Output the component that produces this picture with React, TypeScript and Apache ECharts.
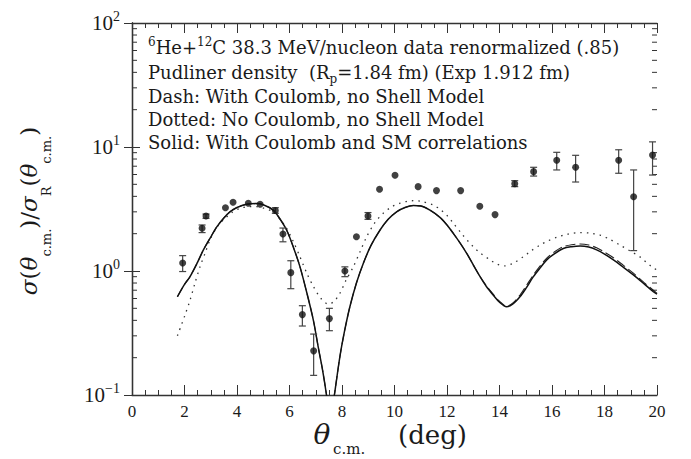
import React, { useEffect, useRef } from "react";
import * as echarts from "echarts";

// ---- data points (theta c.m., ratio) ----
const pointX = [1.93, 2.67, 2.82, 3.56, 3.85, 4.43, 4.88, 5.46, 5.75, 6.05, 6.49, 6.92, 7.52, 8.11, 8.55, 8.99, 9.43, 10.02, 10.9, 11.6, 12.52, 13.25, 13.83, 14.58, 15.3, 16.18, 16.9, 18.54, 19.11, 19.83];
const pointY = [1.16, 2.21, 2.78, 3.24, 3.58, 3.52, 3.45, 3.08, 1.99, 0.97, 0.445, 0.227, 0.413, 1.0, 1.89, 2.78, 4.56, 5.92, 4.79, 4.45, 4.45, 3.33, 2.85, 5.06, 6.33, 7.81, 6.86, 7.81, 3.97, 8.6];
const errLow: (number | null)[] = [0.99, 2.04, 2.66, null, null, null, null, 2.92, 1.72, 0.72, 0.36, 0.144, 0.33, 0.9, null, 2.61, null, null, null, null, null, null, null, 4.79, 5.83, 6.53, 5.22, 6.14, 1.46, 5.94];
const errHigh: (number | null)[] = [1.33, 2.35, 2.88, null, null, null, null, 3.24, 2.22, 1.21, 0.525, 0.31, 0.5, 1.08, null, 2.96, null, null, null, null, null, null, null, 5.35, 6.86, 9.06, 8.57, 9.5, 6.53, 11.0];

// ---- solid: with Coulomb and SM correlations ----
const solidX = [1.73, 2.0, 2.21, 2.5, 2.72, 3.0, 3.23, 3.5, 3.73, 4.0, 4.37, 4.75, 5.0, 5.38, 5.6, 5.89, 6.15, 6.4, 6.65, 6.91, 7.1, 7.26, 7.41, 7.55, 7.71, 7.92, 8.1, 8.3, 8.55, 8.81, 9.1, 9.45, 9.75, 10.08, 10.4, 10.72, 11.0, 11.35, 11.73, 12.0, 12.24, 12.5, 12.75, 13.0, 13.26, 13.5, 13.76, 14.0, 14.27, 14.5, 14.78, 15.0, 15.29, 15.55, 15.8, 16.1, 16.43, 16.75, 17.07, 17.4, 17.7, 18.0, 18.34, 18.7, 19.1, 19.5, 19.86, 20.0];
const solidY = [0.62, 0.78, 0.9, 1.18, 1.48, 1.88, 2.27, 2.68, 3.0, 3.25, 3.45, 3.5, 3.42, 3.1, 2.7, 2.14, 1.55, 1.08, 0.68, 0.4, 0.24, 0.159, 0.1, 0.06, 0.1, 0.204, 0.33, 0.515, 0.8, 1.15, 1.6, 2.14, 2.6, 3.0, 3.25, 3.37, 3.35, 3.1, 2.71, 2.35, 2.01, 1.68, 1.39, 1.12, 0.9, 0.75, 0.64, 0.56, 0.515, 0.54, 0.62, 0.72, 0.9, 1.06, 1.23, 1.38, 1.52, 1.57, 1.59, 1.56, 1.48, 1.37, 1.23, 1.08, 0.93, 0.79, 0.68, 0.65];

// ---- dashed: with Coulomb, no shell model ----
const dashX = [1.73, 2.0, 2.21, 2.5, 2.72, 3.0, 3.23, 3.5, 3.73, 4.0, 4.37, 4.75, 5.0, 5.38, 5.6, 5.89, 6.15, 6.4, 6.65, 6.91, 7.1, 7.26, 7.41, 7.55, 7.71, 7.92, 8.1, 8.3, 8.55, 8.81, 9.1, 9.45, 9.75, 10.08, 10.4, 10.72, 11.0, 11.35, 11.73, 12.0, 12.24, 12.5, 12.75, 13.0, 13.26, 13.5, 13.76, 14.0, 14.27, 14.5, 14.78, 15.0, 15.29, 15.55, 15.8, 16.1, 16.43, 16.75, 17.07, 17.4, 17.7, 18.0, 18.34, 18.7, 19.1, 19.5, 19.86, 20.0];
const dashY = [0.62, 0.78, 0.9, 1.18, 1.48, 1.88, 2.27, 2.68, 3.0, 3.25, 3.45, 3.5, 3.42, 3.1, 2.7, 2.14, 1.55, 1.08, 0.68, 0.4, 0.24, 0.159, 0.1, 0.06, 0.1, 0.204, 0.33, 0.515, 0.8, 1.15, 1.6, 2.14, 2.6, 3.0, 3.25, 3.37, 3.35, 3.1, 2.71, 2.35, 2.01, 1.68, 1.39, 1.12, 0.9, 0.76, 0.65, 0.57, 0.52, 0.55, 0.64, 0.75, 0.93, 1.1, 1.27, 1.43, 1.57, 1.63, 1.65, 1.62, 1.54, 1.42, 1.28, 1.12, 0.96, 0.81, 0.7, 0.66];

// ---- dotted: no Coulomb, no shell model ----
const dotX = [1.73, 2.0, 2.21, 2.4, 2.59, 2.8, 2.97, 3.2, 3.48, 3.8, 4.11, 4.45, 4.75, 5.05, 5.38, 5.65, 5.89, 6.15, 6.4, 6.65, 6.91, 7.2, 7.49, 7.7, 7.92, 8.15, 8.43, 8.7, 8.94, 9.25, 9.57, 9.9, 10.21, 10.5, 10.72, 11.0, 11.48, 11.73, 12.0, 12.24, 12.6, 13.0, 13.3, 13.64, 13.9, 14.21, 14.5, 14.9, 15.2, 15.54, 15.85, 16.18, 16.6, 17.07, 17.45, 17.83, 18.2, 18.59, 19.0, 19.35, 19.8, 20.0];
const dotY = [0.3, 0.43, 0.58, 0.8, 1.08, 1.42, 1.78, 2.2, 2.58, 2.95, 3.2, 3.3, 3.3, 3.2, 3.0, 2.6, 2.21, 1.72, 1.3, 0.97, 0.75, 0.6, 0.54, 0.57, 0.66, 0.84, 1.08, 1.45, 1.89, 2.45, 2.92, 3.3, 3.52, 3.65, 3.69, 3.65, 3.4, 3.15, 2.8, 2.43, 1.95, 1.57, 1.38, 1.23, 1.14, 1.1, 1.15, 1.3, 1.45, 1.62, 1.75, 1.87, 1.98, 2.04, 2.02, 1.95, 1.8, 1.62, 1.44, 1.3, 1.08, 1.02];

// ---- axes ----
const xMin = 0;
const xMax = 20;
const xInterval = 2;
const yMin = 0.1;
const yMax = 100;
const yMinorTicks = [0.2, 0.3, 0.4, 0.5, 0.6, 0.7, 0.8, 0.9, 2, 3, 4, 5, 6, 7, 8, 9, 20, 30, 40, 50, 60, 70, 80, 90];

// ---- annotation text ----
const textLines = [
  "{sup|6}He+{sup|12}C 38.3 MeV/nucleon data renormalized (.85)",
  "Pudliner density  (R{sub|p}=1.84 fm) (Exp 1.912 fm)",
  "Dash: With Coulomb, no Shell Model",
  "Dotted: No Coulomb, no Shell Model",
  "Solid: With Coulomb and SM correlations",
];
const textLineY = [47, 72, 96, 119, 142];
const xTitleSymbol = "θ";
const xTitleSub = "c.m.";
const xTitleUnit = "(deg)";
const yTitle = "{i|σ}{m|(}{i|θ}{s|c.m.}{m|)/}{i|σ}{s|R}{m|(}{i|θ}{s|c.m.}{m|)}";

const SERIF = '"DejaVu Serif", serif';
const TIMES = '"Liberation Serif", serif';
const INK = "#1a1a1a";

function zip(a: number[], b: number[]) {
  return a.map((v, i) => [v, b[i]]);
}

export default function App() {
  const ref = useRef<HTMLDivElement>(null);
  useEffect(() => {
    const chart = echarts.init(ref.current!, null, { renderer: "svg" });
    const axisLine = { show: true, lineStyle: { color: "#333", width: 1.3 } };
    const baseX = {
      type: "value",
      min: xMin,
      max: xMax,
      interval: xInterval,
      axisLine,
      axisTick: { show: true, inside: true, length: 10, lineStyle: { color: "#333", width: 1 } },
      minorTick: { show: true, splitNumber: 4, length: 5, lineStyle: { color: "#333", width: 1 } },
      splitLine: { show: false },
      minorSplitLine: { show: false },
    };
    const baseY = {
      type: "log",
      logBase: 10,
      min: yMin,
      max: yMax,
      axisLine,
      axisTick: { show: true, inside: true, length: 8, lineStyle: { color: "#333", width: 1 } },
      splitLine: { show: false },
    };
    const supFmt = (v: number) => {
      const e = Math.round(Math.log10(v));
      const s = e < 0 ? "\u2212" + -e : String(e);
      return "{b|10}{s|" + s + "}";
    };
    const errData = pointX
      .map((x, i) => [x, errLow[i], errHigh[i]])
      .filter((d) => d[1] !== null && d[2] !== null);

    chart.setOption({
      animation: false,
      backgroundColor: "#ffffff",
      grid: { left: 132, right: 34, top: 23, bottom: 64, containLabel: false },
      xAxis: [
        {
          ...baseX,
          position: "bottom",
          axisLabel: { show: true, margin: 8, color: INK, fontFamily: TIMES, fontSize: 17 },
        },
        { ...baseX, position: "top", axisLabel: { show: false } },
      ],
      yAxis: [
        {
          ...baseY,
          position: "left",
          axisLabel: {
            show: true,
            margin: 12,
            formatter: supFmt,
            rich: {
              b: { fontFamily: TIMES, fontSize: 21, color: INK },
              s: { fontFamily: TIMES, fontSize: 14, color: INK, padding: [0, 0, 14, 0] },
            },
          },
        },
        { ...baseY, position: "right", axisLabel: { show: false } },
      ],
      series: [
        {
          type: "custom",
          name: "minorY",
          silent: true,
          clip: false,
          data: yMinorTicks.map((v) => [xMin, v]),
          renderItem: (_p: any, api: any) => {
            const v = api.value(1);
            const l = api.coord([xMin, v]);
            const r = api.coord([xMax, v]);
            const st = { stroke: "#333", lineWidth: 1 };
            return {
              type: "group",
              children: [
                { type: "line", shape: { x1: l[0], y1: l[1], x2: l[0] + 5, y2: l[1] }, style: st },
                { type: "line", shape: { x1: r[0] - 5, y1: r[1], x2: r[0], y2: r[1] }, style: st },
              ],
            };
          },
        },
        {
          type: "line",
          name: "dotted",
          data: zip(dotX, dotY),
          showSymbol: false,
          smooth: 0.3,
          lineStyle: { color: "#333", width: 1.3, type: [1.5, 5] },
          z: 2,
        },
        {
          type: "line",
          name: "dashed",
          data: zip(dashX, dashY),
          showSymbol: false,
          smooth: 0.3,
          lineStyle: { color: "#222", width: 1.1, type: [10, 4] },
          z: 2,
        },
        {
          type: "line",
          name: "solid",
          data: zip(solidX, solidY),
          showSymbol: false,
          smooth: 0.3,
          lineStyle: { color: "#111", width: 1.5 },
          z: 3,
        },
        {
          type: "custom",
          name: "errors",
          silent: true,
          data: errData,
          encode: { x: 0, y: [1, 2] },
          renderItem: (_p: any, api: any) => {
            const x = api.value(0);
            const lo = api.coord([x, api.value(1)]);
            const hi = api.coord([x, api.value(2)]);
            const st = { stroke: "#444", lineWidth: 1.2 };
            return {
              type: "group",
              children: [
                { type: "line", shape: { x1: lo[0], y1: lo[1], x2: hi[0], y2: hi[1] }, style: st },
                { type: "line", shape: { x1: lo[0] - 3.5, y1: lo[1], x2: lo[0] + 3.5, y2: lo[1] }, style: st },
                { type: "line", shape: { x1: hi[0] - 3.5, y1: hi[1], x2: hi[0] + 3.5, y2: hi[1] }, style: st },
              ],
            };
          },
          z: 4,
        },
        {
          type: "scatter",
          name: "data",
          data: zip(pointX, pointY),
          symbol: "circle",
          symbolSize: 7,
          itemStyle: { color: "#111" },
          z: 5,
        },
      ],
      graphic: [
        ...textLines.map((t, i) => ({
          type: "text",
          x: 148,
          y: textLineY[i],
          silent: true,
          style: {
            text: t,
            font: "18px " + SERIF,
            fill: INK,
            verticalAlign: "middle",
            align: "left",
            rich: {
              sup: { fontSize: 12, fontFamily: SERIF, fill: INK, padding: [0, 0, 10, 0] },
              sub: { fontSize: 12, fontFamily: SERIF, fill: INK, padding: [14, 0, 0, 0] },
            },
          },
        })),
        {
          type: "text",
          x: 322,
          y: 434,
          silent: true,
          style: {
            text: xTitleSymbol,
            font: "italic 28px " + SERIF,
            fill: INK,
            align: "center",
            verticalAlign: "middle",
          },
        },
        {
          type: "text",
          x: 333,
          y: 449,
          silent: true,
          style: {
            text: xTitleSub,
            font: "15px " + SERIF,
            fill: INK,
            align: "left",
            verticalAlign: "middle",
          },
        },
        {
          type: "text",
          x: 398,
          y: 435,
          silent: true,
          style: {
            text: xTitleUnit,
            font: "26px " + SERIF,
            fill: INK,
            align: "left",
            verticalAlign: "middle",
          },
        },
        {
          type: "text",
          x: 29,
          y: 211,
          rotation: Math.PI / 2,
          silent: true,
          style: {
            text: yTitle,
            font: "23px " + SERIF,
            fill: INK,
            align: "center",
            verticalAlign: "middle",
            rich: {
              i: { fontSize: 23, fontFamily: SERIF, fontStyle: "italic", fill: INK },
              s: { fontSize: 13, fontFamily: SERIF, fill: INK, padding: [34, 0, 0, 0] },
              m: { fontSize: 23, fontFamily: SERIF, fill: INK },
            },
          },
        },
      ],
    });
    return () => chart.dispose();
  }, []);
  return (
    <div
      ref={ref}
      style={{ position: "fixed", left: 0, top: 0, width: 691, height: 459, background: "#fff" }}
    />
  );
}
